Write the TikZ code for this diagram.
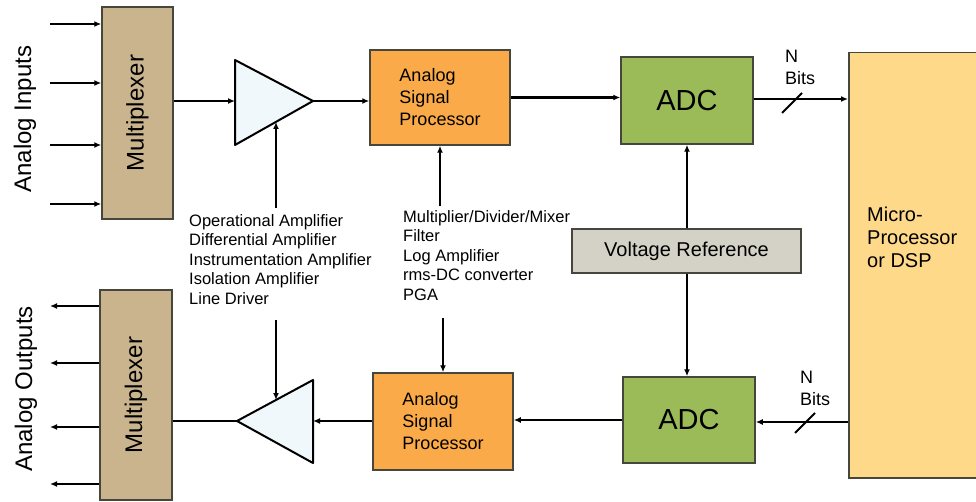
\documentclass[tikz,border=0pt]{standalone}
\usepackage{fontspec}
\setmainfont{Liberation Sans}
\usetikzlibrary{arrows.meta}

\definecolor{muxtan}{RGB}{201,180,142}
\definecolor{aspor}{RGB}{250,170,72}
\definecolor{adcgreen}{RGB}{155,187,89}
\definecolor{mpuyel}{RGB}{255,217,138}
\definecolor{vrefgray}{RGB}{212,210,198}
\definecolor{ampfill}{RGB}{240,248,252}
\definecolor{boxline}{RGB}{70,70,60}

\newcommand\muxfont{\fontsize{24}{26}\selectfont}
\newcommand\aspfont{\fontsize{18}{22}\selectfont}
\newcommand\adcfont{\fontsize{29}{31}\selectfont}
\newcommand\listfont{\fontsize{16.5}{19.5}\selectfont}
\newcommand\bitsfont{\fontsize{18}{22}\selectfont}

\tikzset{
  box/.style={draw=boxline, line width=1.5pt, inner sep=0pt},
  muxbox/.style={box, fill=muxtan, rotate=90, font=\muxfont},
  aspbox/.style={box, fill=aspor, align=left, font=\aspfont},
  adcbox/.style={box, fill=adcgreen, font=\adcfont, minimum width=132pt},
  vrefbox/.style={box, fill=vrefgray, font=\fontsize{20}{22}\selectfont},
  mpubox/.style={box, fill=mpuyel},
  ampshape/.style={draw=black, line width=2pt, fill=ampfill, line join=round},
  sig/.style={line width=2.4pt, -{Latex[length=7pt,width=6pt]}},
  plainsig/.style={line width=2.4pt},
  busmark/.style={line width=2pt},
  listtext/.style={inner sep=0pt, align=left, font=\listfont, anchor=north west}
}

\begin{document}
\begin{tikzpicture}[x=1pt,y=-1pt]
  \useasboundingbox (0,0) rectangle (976,502);

  % multiplexers (rotated: north is the left side, south the right side)
  \node[muxbox, minimum width=212pt, minimum height=71pt] (muxin) at (137.5,113) {Multiplexer};
  \node[muxbox, minimum width=210pt, minimum height=72pt] (muxout) at (136,395) {Multiplexer};
  \node[rotate=90, font=\muxfont] (inlabel) at (25,119) {Analog Inputs};
  \node[rotate=90, font=\muxfont] (outlabel) at (26,389) {Analog Outputs};

  % processing blocks
  \node[aspbox, minimum width=140pt, minimum height=95pt] (asp1) at (440,97.5) {Analog\\Signal\\Processor};
  \node[aspbox, minimum width=140pt, minimum height=97pt] (asp2) at (443,421.5) {Analog\\Signal\\Processor};
  \node[adcbox, minimum height=87pt] (adc1) at (687,100.5) {ADC};
  \node[adcbox, minimum height=86pt] (adc2) at (689,420) {ADC};
  \node[vrefbox, minimum width=229pt, minimum height=44pt] (vref) at (686.5,251) {Voltage Reference};
  \node[mpubox, anchor=north west, minimum width=140pt, minimum height=425pt] (mpu) at (848,52) {};
  \node[inner sep=0pt, align=left, anchor=north west, font=\fontsize{20}{23}\selectfont] (mpulabel) at (867,207) {Micro-\\Processor\\or DSP};

  % amplifiers
  \coordinate (amp1tl) at (235,60);
  \coordinate (amp1bl) at (235,145);
  \coordinate (amp1out) at (313,101);
  \coordinate (amp1in) at (235,101);
  \coordinate (amp1ctl) at (276,122);
  \draw[ampshape] (amp1tl) -- (amp1out) -- (amp1bl) -- cycle;
  \coordinate (amp2tr) at (313,380);
  \coordinate (amp2br) at (313,463);
  \coordinate (amp2out) at (237,421);
  \coordinate (amp2in) at (313,421);
  \coordinate (amp2ctl) at (276,400);
  \draw[ampshape] (amp2tr) -- (amp2out) -- (amp2br) -- cycle;

  % function lists
  \node[listtext] (amplist) at (189,214) {Operational Amplifier\\Differential Amplifier\\Instrumentation Amplifier\\Isolation Amplifier\\Line Driver};
  \node[listtext] (asplist) at (403,210) {Multiplier/Divider/Mixer\\Filter\\Log Amplifier\\rms-DC converter\\PGA};

  % inputs and outputs
  \foreach \y [count=\i] in {24,83,145,204} {
    \coordinate (in\i) at (50,\y);
    \draw[sig] (in\i) -- (in\i -| muxin.north);
  }
  \foreach \y [count=\i] in {306,363,427,484} {
    \coordinate (out\i) at (50,\y);
    \draw[sig] (out\i -| muxout.north) -- (out\i);
  }

  % upper signal path
  \draw[sig] (muxin.south |- amp1in) -- (amp1in);
  \draw[sig] (amp1out) -- (asp1.west |- amp1out);
  \draw[sig] (asp1.east) -- (adc1.west |- asp1.east);
  \draw[sig] (adc1.east |- 0,99) coordinate (bus1) -- (mpu.west |- bus1);
  \draw[busmark] (782,113) -- (802,93);
  \node[inner sep=0pt, align=left, anchor=north west, font=\bitsfont] (bits1) at (785,50) {N\\Bits};

  % lower signal path
  \draw[sig] (mpu.west |- 0,422) coordinate (bus2) -- (adc2.east |- bus2);
  \draw[busmark] (795,433) -- (815,413);
  \node[inner sep=0pt, align=left, anchor=north west, font=\bitsfont] (bits2) at (800,371) {N\\Bits};
  \draw[sig] (adc2.west) -- (asp2.east |- adc2.west);
  \draw[sig] (asp2.west |- amp2in) -- (amp2in);
  \draw[plainsig] (amp2out) -- (muxout.south |- amp2out);

  % control lines
  \draw[sig] (amp1ctl |- 0,208) -- (amp1ctl);
  \draw[sig] (amp2ctl |- 0,320) -- (amp2ctl);
  \draw[sig] (asp1.south |- 0,206) -- (asp1.south);
  \draw[sig] (asp2.north |- 0,318) -- (asp2.north);
  \draw[sig] (adc1.south |- vref.north) -- (adc1.south);
  \draw[sig] (adc1.south |- vref.south) -- (adc1.south |- adc2.north);
\end{tikzpicture}
\end{document}
